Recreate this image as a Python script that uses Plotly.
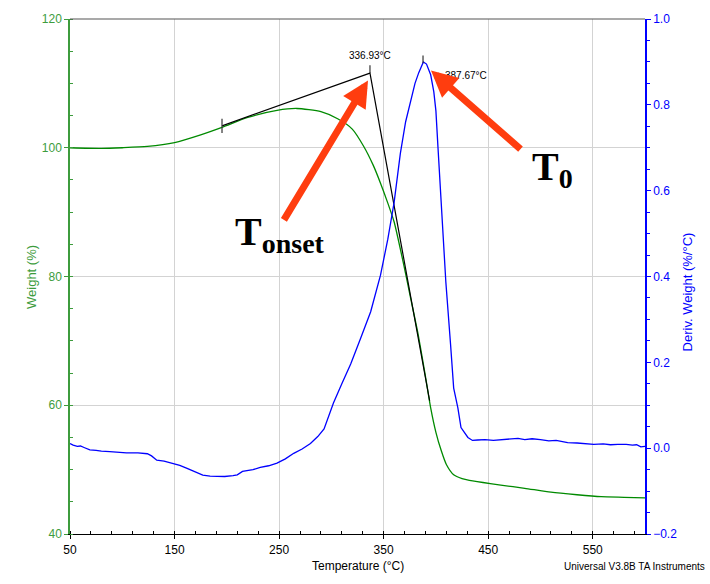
import plotly.graph_objects as go

# ---- data ----
weight_T = [50, 80, 100, 124, 150, 175, 196, 220, 248, 267, 290, 306, 320, 331, 340, 347, 354,
            360, 369, 376, 383, 390, 395, 400, 405, 410, 417, 425, 430, 445, 462, 485, 510, 535, 558, 580, 600]
weight_W = [100.0, 99.9, 100.0, 100.2, 100.8, 102.0, 103.2, 104.7, 105.8, 106.1, 105.6, 104.5, 102.9, 100.2, 97.3, 94.5, 91.4,
            88.5, 82.0, 76.5, 71.0, 64.5, 59.6, 55.8, 53.0, 50.8, 49.2, 48.6, 48.4, 48.0, 47.6, 47.1, 46.5, 46.1, 45.8, 45.7, 45.6]

deriv_T = [50, 53, 57, 60, 64, 69, 75, 80, 88, 95, 104, 115, 124, 128, 133, 140, 149, 155, 162, 170, 177, 184, 191, 198,
           206, 210, 215, 225, 232, 240, 248, 256, 264, 272, 280, 287, 293, 302, 310, 318.5, 328, 337.6, 347, 354, 360, 366,
           371, 376, 380, 383.6, 388, 391, 395, 398, 400, 402, 405, 409.5, 414, 417, 421, 424, 430.6, 435, 440, 447, 455,
           462, 470, 478.5, 485, 492, 500, 508, 515, 526, 535, 543, 551, 560, 567, 574, 582, 588, 592, 596, 600]
deriv_D = [0.011, 0.007, 0.004, 0.005, 0.001, -0.004, -0.005, -0.007, -0.008, -0.010, -0.011, -0.011, -0.013, -0.018,
           -0.028, -0.030, -0.035, -0.040, -0.047, -0.055, -0.063, -0.065, -0.065, -0.066, -0.064, -0.062, -0.054, -0.050,
           -0.045, -0.041, -0.035, -0.025, -0.012, -0.002, 0.011, 0.027, 0.045, 0.105, 0.150, 0.196, 0.256, 0.318, 0.403,
           0.487, 0.572, 0.687, 0.760, 0.810, 0.850, 0.875, 0.900, 0.895, 0.870, 0.830, 0.786, 0.700, 0.572, 0.387, 0.242,
           0.140, 0.094, 0.048, 0.025, 0.018, 0.019, 0.020, 0.018, 0.020, 0.022, 0.023, 0.020, 0.022, 0.020, 0.017, 0.018,
           0.013, 0.012, 0.010, 0.009, 0.010, 0.008, 0.009, 0.009, 0.007, 0.008, 0.003, 0.004]

# onset construction (tangent lines) and labels
onset_T = [195.4, 336.93, 394.0]
onset_W = [103.4, 111.6, 60.7]
onset_label = "336.93°C"
peak_T = 387.67
peak_label = "387.67°C"

x_ticks = [50, 150, 250, 350, 450, 550]

GREEN = "#008a00"
AXGREEN = "#3d9c3d"
BLUE = "#0000ff"
SANS = "Liberation Sans Narrow, Arial Narrow, Liberation Sans, sans-serif"
SERIF = "Liberation Serif, Times New Roman, serif"

fig = go.Figure()

fig.add_trace(go.Scatter(x=weight_T, y=weight_W, mode="lines", line=dict(color=GREEN, width=1.3, shape="spline", smoothing=0.6),
                         hoverinfo="skip", showlegend=False))
fig.add_trace(go.Scatter(x=deriv_T, y=deriv_D, mode="lines", line=dict(color=BLUE, width=1.3), yaxis="y2",
                         hoverinfo="skip", showlegend=False))
# tangent lines
fig.add_trace(go.Scatter(x=onset_T, y=onset_W, mode="lines", line=dict(color="black", width=1.2),
                         hoverinfo="skip", showlegend=False))
# small construction ticks
fig.add_trace(go.Scatter(x=[onset_T[0], onset_T[0], None, onset_T[1], onset_T[1]],
                         y=[onset_W[0] - 1.1, onset_W[0] + 1.1, None, onset_W[1], onset_W[1] + 1.2],
                         mode="lines", line=dict(color="#333333", width=1.2), hoverinfo="skip", showlegend=False))
fig.add_trace(go.Scatter(x=[peak_T, peak_T], y=[0.897, 0.915], yaxis="y2", mode="lines",
                         line=dict(color="#333333", width=1.2), hoverinfo="skip", showlegend=False))

L, R, T, B = 70, 65, 14, 50
PW, PH = 710 - L - R, 584 - T - B


def px(xp):
    return (xp - L) / PW


def py(yp):
    return (584 - B - yp) / PH


ann = []
ann.append(dict(x=onset_T[1], y=onset_W[1] + 1.5, xref="x", yref="y", text=onset_label, showarrow=False,
                yanchor="bottom", font=dict(family=SANS, size=10, color="black")))
ann.append(dict(x=px(443), y=py(63), xref="paper", yref="paper", text=peak_label, showarrow=False,
                xanchor="left", font=dict(family=SANS, size=10, color="black")))
# arrows
ann.append(dict(x=px(368), y=py(76), xref="paper", yref="paper", text="", showarrow=True, ax=-85, ay=141,
                arrowhead=2, arrowsize=0.75, arrowwidth=7, arrowcolor="#ff3d0f", standoff=0))
ann.append(dict(x=px(431), y=py(66), xref="paper", yref="paper", text="", showarrow=True, ax=91, ay=80,
                arrowhead=2, arrowsize=0.75, arrowwidth=7, arrowcolor="#ff3d0f", standoff=0))
ann.append(dict(x=px(233), y=py(231), xref="paper", yref="paper", text="<b>T<sub>onset</sub></b>", showarrow=False,
                xanchor="left", font=dict(family=SERIF, size=40, color="black")))
ann.append(dict(x=px(530), y=py(138), xref="paper", yref="paper", text="<b>T<sub>0</sub></b>", showarrow=False,
                xanchor="left", font=dict(family=SERIF, size=40, color="black")))
# axis titles
ann.append(dict(x=px(22), y=0.5, xref="paper", yref="paper", text="Weight (%)", textangle=-90, showarrow=False,
                font=dict(family=SANS, size=13, color=AXGREEN)))
ann.append(dict(x=px(697), y=0.47, xref="paper", yref="paper", text="Deriv. Weight (%/°C)", textangle=-90, showarrow=False,
                font=dict(family=SANS, size=13, color=BLUE)))
ann.append(dict(x=0.5, y=py(575), xref="paper", yref="paper", text="Temperature (°C)", showarrow=False,
                font=dict(family=SANS, size=12, color="black")))
ann.append(dict(x=px(707), y=py(574), xref="paper", yref="paper", text="Universal V3.8B TA Instruments", showarrow=False,
                xanchor="right", font=dict(family=SANS, size=10, color="black")))

fig.update_layout(
    width=710, height=584, margin=dict(l=L, r=R, t=T, b=B),
    paper_bgcolor="white", plot_bgcolor="white",
    font=dict(family=SANS, size=12, color="black"),
    annotations=ann,
    shapes=[dict(type="line", xref="paper", yref="paper", x0=0, x1=1, y0=1, y1=1, line=dict(color="#555555", width=1.2))],
    xaxis=dict(range=[50, 600], tickvals=x_ticks, showgrid=True, gridcolor="#d3d3d3", gridwidth=1, zeroline=False,
               showline=True, linecolor="black", linewidth=1.2, ticks="outside", ticklen=4, tickcolor="black",
               tickfont=dict(family=SANS, size=12, color="black"),
               minor=dict(dtick=20, tick0=50, ticks="inside", ticklen=3, tickcolor="black", showgrid=False)),
    yaxis=dict(range=[40, 120], dtick=20, showgrid=True, gridcolor="#d3d3d3", gridwidth=1, zeroline=False,
               showline=True, linecolor=AXGREEN, linewidth=1.5, ticks="outside", ticklen=4, tickcolor=AXGREEN,
               tickfont=dict(family=SANS, size=12, color=AXGREEN),
               minor=dict(dtick=5, ticks="inside", ticklen=3, tickcolor=AXGREEN, showgrid=False)),
    yaxis2=dict(range=[-0.2, 1.0], dtick=0.2, tickformat=".1f", overlaying="y", side="right", showgrid=False,
                zeroline=False, showline=True, linecolor=BLUE, linewidth=1.5, ticks="outside", ticklen=4, tickcolor=BLUE,
                tickfont=dict(family=SANS, size=12, color=BLUE),
                minor=dict(dtick=0.05, ticks="outside", ticklen=3, tickcolor=BLUE, showgrid=False)),
)

fig.write_html("out.html")
